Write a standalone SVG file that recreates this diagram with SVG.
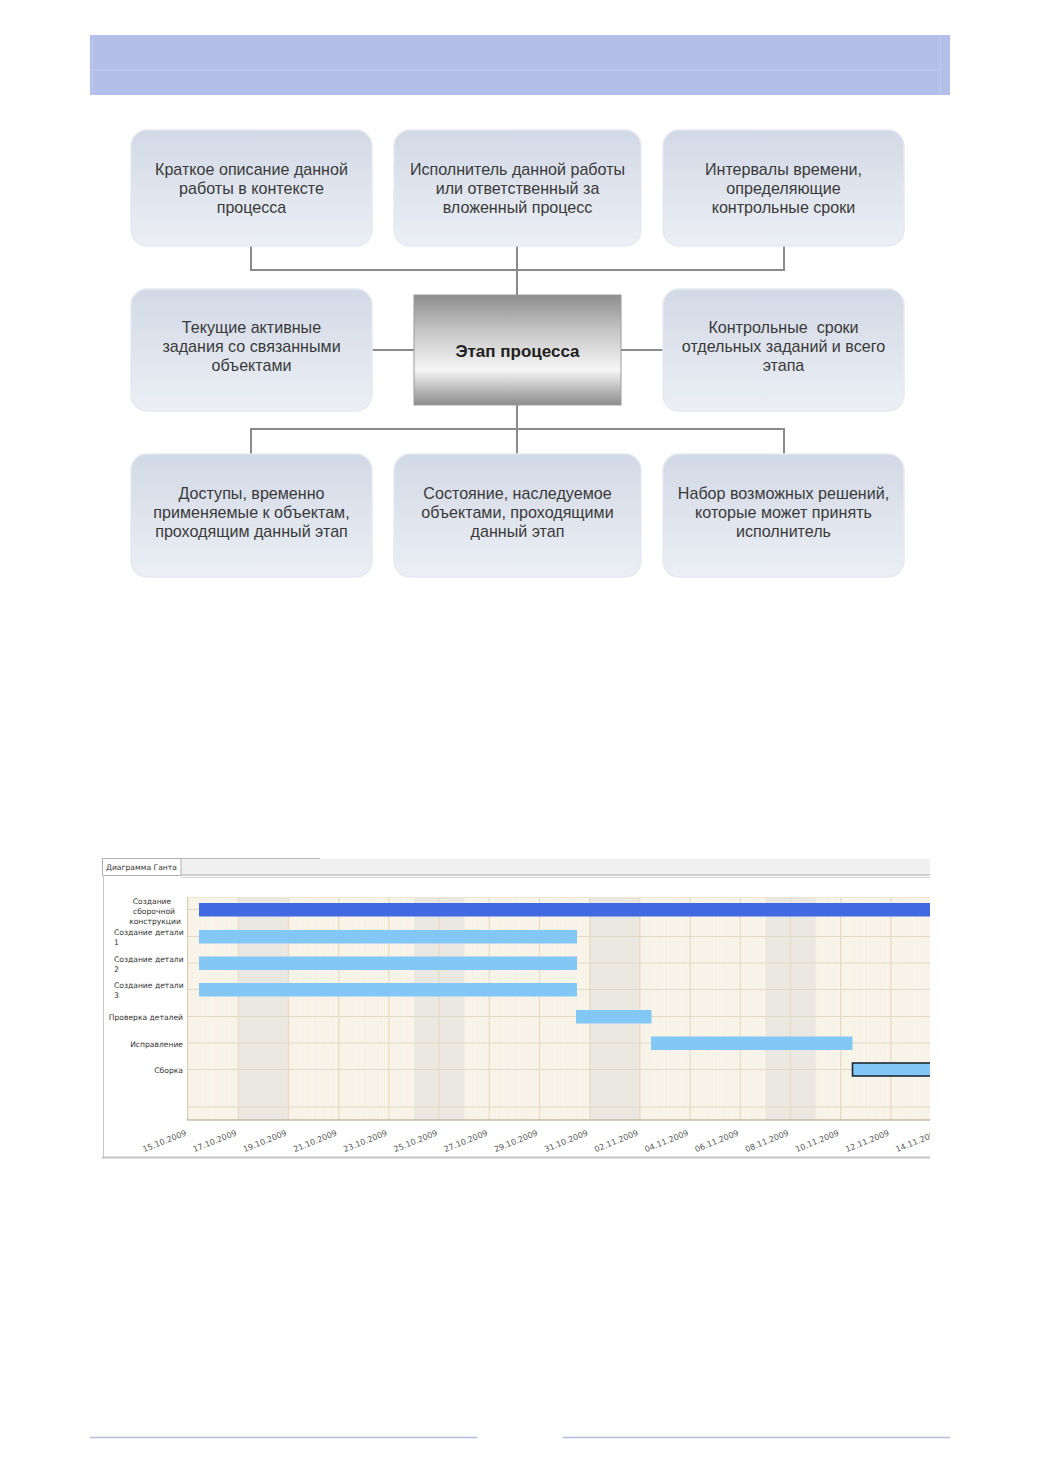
<svg xmlns="http://www.w3.org/2000/svg" width="1040" height="1471" viewBox="0 0 1040 1471">
<defs>
<style>
.box{fill:url(#boxg);stroke:#e6e9f0;stroke-width:1.5}
.bt{font-family:"Liberation Sans",Arial,sans-serif;font-size:16.1px;fill:#3a3a3a;text-anchor:middle}
.conn{stroke:#8a8a8a;stroke-width:2;fill:none}
.rl{font-family:"DejaVu Sans","Liberation Sans",sans-serif;font-size:7.6px;fill:#333}
.dt{font-family:"DejaVu Sans","Liberation Sans",sans-serif;font-size:8.1px;fill:#555;text-anchor:end}
.maj{stroke:#e6dcc4;stroke-width:1.2}
.hrow{stroke:#e3dac6;stroke-width:1}
.lb{fill:#83c7f6}
</style>
<linearGradient id="boxg" x1="0" y1="0" x2="0" y2="1">
<stop offset="0" stop-color="#d2d9e6"/>
<stop offset="1" stop-color="#eceff5"/>
</linearGradient>
<linearGradient id="ctr" x1="0" y1="0" x2="0" y2="1">
<stop offset="0" stop-color="#8e8e8e"/>
<stop offset="0.35" stop-color="#c9c9c9"/>
<stop offset="0.68" stop-color="#f6f6f6"/>
<stop offset="1" stop-color="#8c8c8c"/>
</linearGradient>
<pattern id="minor" x="188" y="0" width="25.1" height="10" patternUnits="userSpaceOnUse">
<rect width="25.1" height="10" fill="#fbf7ee"/>
<path d="M2.1 0V10M4.2 0V10M6.3 0V10M8.4 0V10M10.5 0V10M12.6 0V10M14.6 0V10M16.7 0V10M18.8 0V10M20.9 0V10M23 0V10" stroke="#f1eadb" stroke-width="0.6"/>
<path d="M0 0V10" stroke="#ebe2cf" stroke-width="0.8"/>
</pattern>
<clipPath id="chartclip"><rect x="100" y="850" width="830" height="320"/></clipPath>
</defs>
<rect width="1040" height="1471" fill="#ffffff"/>

<g id="header">
<rect x="90" y="35" width="860" height="60" fill="#b3bfe9"/>
<line x1="92" y1="70" x2="940" y2="70" stroke="#c3ccf0" stroke-width="1"/>
<line x1="92" y1="91" x2="940" y2="91" stroke="#bcc6ee" stroke-width="0.8"/>
<line x1="92.5" y1="36" x2="92.5" y2="94" stroke="#c3ccf0" stroke-width="0.8"/>
<line x1="940.5" y1="36" x2="940.5" y2="94" stroke="#c3ccf0" stroke-width="0.8"/>
</g>

<g id="connectors">
<path class="conn" d="M251 246V270H784V246M517 246V295"/>
<path class="conn" d="M372 350H414M621 350H663"/>
<path class="conn" d="M517 405V454M251 454V429H784V454"/>
</g>

<g id="n1"><rect class="box" x="131" y="130" width="241" height="116" rx="16"/>
<text class="bt" x="251.5" y="174.5">Краткое описание данной</text><text class="bt" x="251.5" y="193.5">работы в контексте</text><text class="bt" x="251.5" y="212.5">процесса</text></g>
<g id="n2"><rect class="box" x="394" y="130" width="247" height="116" rx="16"/>
<text class="bt" x="517.5" y="174.5">Исполнитель данной работы</text><text class="bt" x="517.5" y="193.5">или ответственный за</text><text class="bt" x="517.5" y="212.5">вложенный процесс</text></g>
<g id="n3"><rect class="box" x="663" y="130" width="241" height="116" rx="16"/>
<text class="bt" x="783.5" y="174.5">Интервалы времени,</text><text class="bt" x="783.5" y="193.5">определяющие</text><text class="bt" x="783.5" y="212.5">контрольные сроки</text></g>
<g id="n4"><rect class="box" x="131" y="289" width="241" height="122" rx="16"/>
<text class="bt" x="251.5" y="332.5">Текущие активные</text><text class="bt" x="251.5" y="351.5">задания со связанными</text><text class="bt" x="251.5" y="370.5">объектами</text></g>
<g id="center"><rect x="414" y="295" width="207" height="110" fill="url(#ctr)" stroke="#9a9a9a" stroke-width="1"/>
<text x="517.5" y="357" font-family="Liberation Sans,Arial,sans-serif" font-size="17" font-weight="bold" fill="#222" text-anchor="middle">Этап процесса</text></g>
<g id="n5"><rect class="box" x="663" y="289" width="241" height="122" rx="16"/>
<text class="bt" x="783.5" y="332.5" xml:space="preserve">Контрольные  сроки</text><text class="bt" x="783.5" y="351.5">отдельных заданий и всего</text><text class="bt" x="783.5" y="370.5">этапа</text></g>
<g id="n6"><rect class="box" x="131" y="454" width="241" height="123" rx="16"/>
<text class="bt" x="251.5" y="498.5">Доступы, временно</text><text class="bt" x="251.5" y="517.5">применяемые к объектам,</text><text class="bt" x="251.5" y="536.5">проходящим данный этап</text></g>
<g id="n7"><rect class="box" x="394" y="454" width="247" height="123" rx="16"/>
<text class="bt" x="517.5" y="498.5">Состояние, наследуемое</text><text class="bt" x="517.5" y="517.5">объектами, проходящими</text><text class="bt" x="517.5" y="536.5">данный этап</text></g>
<g id="n8"><rect class="box" x="663" y="454" width="241" height="123" rx="16"/>
<text class="bt" x="783.5" y="498.5">Набор возможных решений,</text><text class="bt" x="783.5" y="517.5">которые может принять</text><text class="bt" x="783.5" y="536.5">исполнитель</text></g>

<g id="gantt" clip-path="url(#chartclip)">
<line x1="102" y1="858.5" x2="320" y2="858.5" stroke="#b9b9b9" stroke-width="1"/>
<rect x="181" y="859" width="760" height="16" fill="#f0f0f0"/>
<line x1="181" y1="875" x2="940" y2="875" stroke="#a8a8a8" stroke-width="1"/>
<line x1="181" y1="877.5" x2="940" y2="877.5" stroke="#d4d4d4" stroke-width="1"/>
<rect x="102.5" y="858.5" width="78.5" height="17" fill="#ffffff" stroke="#b0b0b0" stroke-width="1"/>
<text x="106" y="870" font-family="DejaVu Sans,Liberation Sans,sans-serif" font-size="7.6" fill="#333">Диаграмма Ганта</text>
<line x1="103.5" y1="875" x2="103.5" y2="1157" stroke="#c8c8c8" stroke-width="1"/>
<line x1="102" y1="1157.5" x2="940" y2="1157.5" stroke="#c4c4c4" stroke-width="2"/>

<rect x="188" y="897" width="760" height="223" fill="url(#minor)"/>
<g fill="#ebe8e1">
<rect x="238.2" y="897" width="50.2" height="223"/>
<rect x="414" y="897" width="50.2" height="223"/>
<rect x="589.7" y="897" width="50.2" height="223"/>
<rect x="765.4" y="897" width="50.2" height="223"/>
</g>
<g class="maj">
<line x1="238.2" y1="897" x2="238.2" y2="1120"/><line x1="288.4" y1="897" x2="288.4" y2="1120"/>
<line x1="338.6" y1="897" x2="338.6" y2="1120"/><line x1="388.8" y1="897" x2="388.8" y2="1120"/>
<line x1="439" y1="897" x2="439" y2="1120"/><line x1="489.2" y1="897" x2="489.2" y2="1120"/>
<line x1="539.4" y1="897" x2="539.4" y2="1120"/><line x1="589.6" y1="897" x2="589.6" y2="1120"/>
<line x1="639.8" y1="897" x2="639.8" y2="1120"/><line x1="690" y1="897" x2="690" y2="1120"/>
<line x1="740.2" y1="897" x2="740.2" y2="1120"/><line x1="790.4" y1="897" x2="790.4" y2="1120"/>
<line x1="840.6" y1="897" x2="840.6" y2="1120"/><line x1="890.8" y1="897" x2="890.8" y2="1120"/>
</g>
<g class="hrow">
<line x1="188" y1="909.5" x2="940" y2="909.5"/><line x1="188" y1="936.5" x2="940" y2="936.5"/>
<line x1="188" y1="963" x2="940" y2="963"/><line x1="188" y1="989.5" x2="940" y2="989.5"/>
<line x1="188" y1="1016.5" x2="940" y2="1016.5"/><line x1="188" y1="1043" x2="940" y2="1043"/>
<line x1="188" y1="1069.5" x2="940" y2="1069.5"/><line x1="188" y1="1107" x2="940" y2="1107"/>
</g>
<line x1="187.5" y1="897" x2="187.5" y2="1120" stroke="#d8cdb2" stroke-width="1"/>
<line x1="187" y1="1120" x2="940" y2="1120" stroke="#a89e82" stroke-width="1.2"/>
<line x1="188" y1="897.5" x2="940" y2="897.5" stroke="#efe6d2" stroke-width="1"/>

<rect x="199" y="903" width="745" height="13.5" fill="#4169e1"/>
<rect class="lb" x="199" y="930" width="378" height="13.5"/>
<rect class="lb" x="199" y="956.5" width="378" height="13.5"/>
<rect class="lb" x="199" y="983" width="378" height="13.5"/>
<rect class="lb" x="576" y="1010" width="75.5" height="13.5"/>
<rect class="lb" x="651" y="1036.5" width="201.5" height="13.5"/>
<rect class="lb" x="852.5" y="1063" width="90" height="13" stroke="#1c2833" stroke-width="1.6"/>

<g class="rl">
<text x="152" y="904" text-anchor="middle">Создание</text>
<text x="154" y="914" text-anchor="middle">сборочной</text>
<text x="155" y="924" text-anchor="middle">конструкции</text>
<text x="114" y="935">Создание детали</text><text x="114" y="945">1</text>
<text x="114" y="961.5">Создание детали</text><text x="114" y="971.5">2</text>
<text x="114" y="988">Создание детали</text><text x="114" y="998">3</text>
<text x="183" y="1020" text-anchor="end">Проверка деталей</text>
<text x="183" y="1046.5" text-anchor="end">Исправление</text>
<text x="183" y="1073" text-anchor="end">Сборка</text>
</g>
<g class="dt">
<text transform="translate(187,1135) rotate(-22)">15.10.2009</text>
<text transform="translate(237.2,1135) rotate(-22)">17.10.2009</text>
<text transform="translate(287.4,1135) rotate(-22)">19.10.2009</text>
<text transform="translate(337.6,1135) rotate(-22)">21.10.2009</text>
<text transform="translate(387.8,1135) rotate(-22)">23.10.2009</text>
<text transform="translate(438,1135) rotate(-22)">25.10.2009</text>
<text transform="translate(488.2,1135) rotate(-22)">27.10.2009</text>
<text transform="translate(538.4,1135) rotate(-22)">29.10.2009</text>
<text transform="translate(588.6,1135) rotate(-22)">31.10.2009</text>
<text transform="translate(638.8,1135) rotate(-22)">02.11.2009</text>
<text transform="translate(689,1135) rotate(-22)">04.11.2009</text>
<text transform="translate(739.2,1135) rotate(-22)">06.11.2009</text>
<text transform="translate(789.4,1135) rotate(-22)">08.11.2009</text>
<text transform="translate(839.6,1135) rotate(-22)">10.11.2009</text>
<text transform="translate(889.8,1135) rotate(-22)">12.11.2009</text>
<text transform="translate(940,1135) rotate(-22)">14.11.2009</text>
</g>
</g>

<g id="footer">
<line x1="90" y1="1437.5" x2="477" y2="1437.5" stroke="#b5bbdb" stroke-width="1.5"/>
<line x1="563" y1="1437.5" x2="950" y2="1437.5" stroke="#b5bbdb" stroke-width="1.5"/>
</g>
</svg>
